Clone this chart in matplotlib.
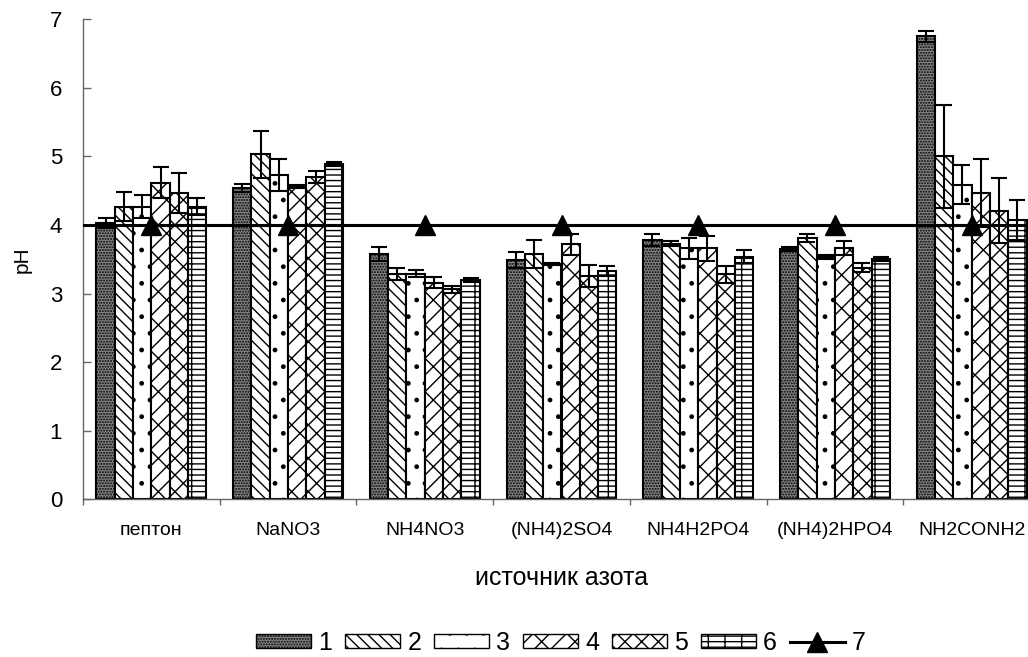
import numpy as np
import matplotlib
matplotlib.use('Agg')
import matplotlib.pyplot as plt
from matplotlib.patches import Patch

plt.rcParams['font.family'] = ['Liberation Sans', 'DejaVu Sans']
plt.rcParams['hatch.linewidth'] = 1.0

# nitrogen sources on the x axis
sources = ['пептон', 'NaNO3', 'NH4NO3', '(NH4)2SO4', 'NH4H2PO4', '(NH4)2HPO4', 'NH2CONH2']

# pH for series 1..6, one list per series (values per source)
ph1 = [4.03, 4.54, 3.58, 3.49, 3.78, 3.65, 6.75]
ph2 = [4.27, 5.03, 3.29, 3.58, 3.73, 3.81, 5.00]
ph3 = [4.27, 4.73, 3.29, 3.43, 3.66, 3.54, 4.59]
ph4 = [4.62, 4.56, 3.16, 3.72, 3.66, 3.66, 4.47]
ph5 = [4.47, 4.70, 3.06, 3.25, 3.28, 3.38, 4.21]
ph6 = [4.27, 4.89, 3.20, 3.33, 3.54, 3.51, 4.07]

# error bar half-widths
err1 = [0.07, 0.06, 0.10, 0.12, 0.09, 0.03, 0.08]
err2 = [0.21, 0.34, 0.09, 0.20, 0.03, 0.06, 0.75]
err3 = [0.17, 0.23, 0.05, 0.02, 0.15, 0.03, 0.28]
err4 = [0.23, 0.02, 0.08, 0.15, 0.18, 0.10, 0.50]
err5 = [0.29, 0.09, 0.05, 0.16, 0.12, 0.06, 0.47]
err6 = [0.12, 0.03, 0.03, 0.07, 0.10, 0.03, 0.29]

# series 7: initial pH level
ph7 = [4, 4, 4, 4, 4, 4, 4]

series_labels = ['1', '2', '3', '4', '5', '6', '7']

values = [ph1, ph2, ph3, ph4, ph5, ph6]
errors = [err1, err2, err3, err4, err5, err6]
faces = ['#858585', 'white', 'white', 'white', 'white', 'white']
hatches = ['......', '\\\\\\', '.', 'x/', 'xx', '+--']

fig = plt.figure(figsize=(10.28, 6.57), dpi=100)
ax = fig.add_axes([83 / 1028, 1 - 499.3 / 657, 957 / 1028, 480 / 657])

x = np.arange(len(sources))
w = 0.134
handles = []
for i in range(6):
    pos = x + (i - 2.5) * w
    ax.bar(pos, values[i], width=w, color=faces[i], edgecolor='black',
           hatch=hatches[i], linewidth=1.5, zorder=2)
    ax.errorbar(pos, values[i], yerr=errors[i], fmt='none', ecolor='black',
                elinewidth=1.5, capsize=6, capthick=1.5, zorder=3)
    handles.append(Patch(facecolor=faces[i], edgecolor='black', hatch=hatches[i],
                         linewidth=1.0, label=series_labels[i]))

# control level runs across the whole plot
ax.axhline(ph7[0], color='black', lw=2.2, zorder=4)
line7, = ax.plot(x, ph7, color='black', lw=2.2, marker='^', ms=15,
                 zorder=5, label=series_labels[6], clip_on=False)
handles.append(line7)

ax.set_xlim(-0.5, 6.5)
ax.set_ylim(0, 7)
ax.set_yticks(range(8))
ax.tick_params(axis='y', direction='in', length=6, width=1, color='#666666',
               labelsize=16, pad=15)
ax.set_xticks(x)
ax.set_xticklabels(sources)
ax.tick_params(axis='x', which='major', length=0, labelsize=14, pad=16)
ax.set_xticks(np.arange(-0.5, 7, 1), minor=True)
ax.tick_params(axis='x', which='minor', direction='out', length=4.5, width=1,
               color='#666666')

for s in ['top', 'right']:
    ax.spines[s].set_visible(False)
for s in ['left', 'bottom']:
    ax.spines[s].set_color('#666666')
    ax.spines[s].set_linewidth(1)

ax.set_xlabel('источник азота', fontsize=18, labelpad=20)
ax.set_ylabel('pH', fontsize=15, labelpad=13)

fig.legend(handles=handles, loc='center', bbox_to_anchor=(561 / 1028, 1 - 643 / 657),
           ncol=7, frameon=False, fontsize=18, handlelength=2.2, handleheight=0.5,
           handletextpad=0.3, columnspacing=0.5, borderpad=0)

fig.savefig('out.png', dpi=100)
